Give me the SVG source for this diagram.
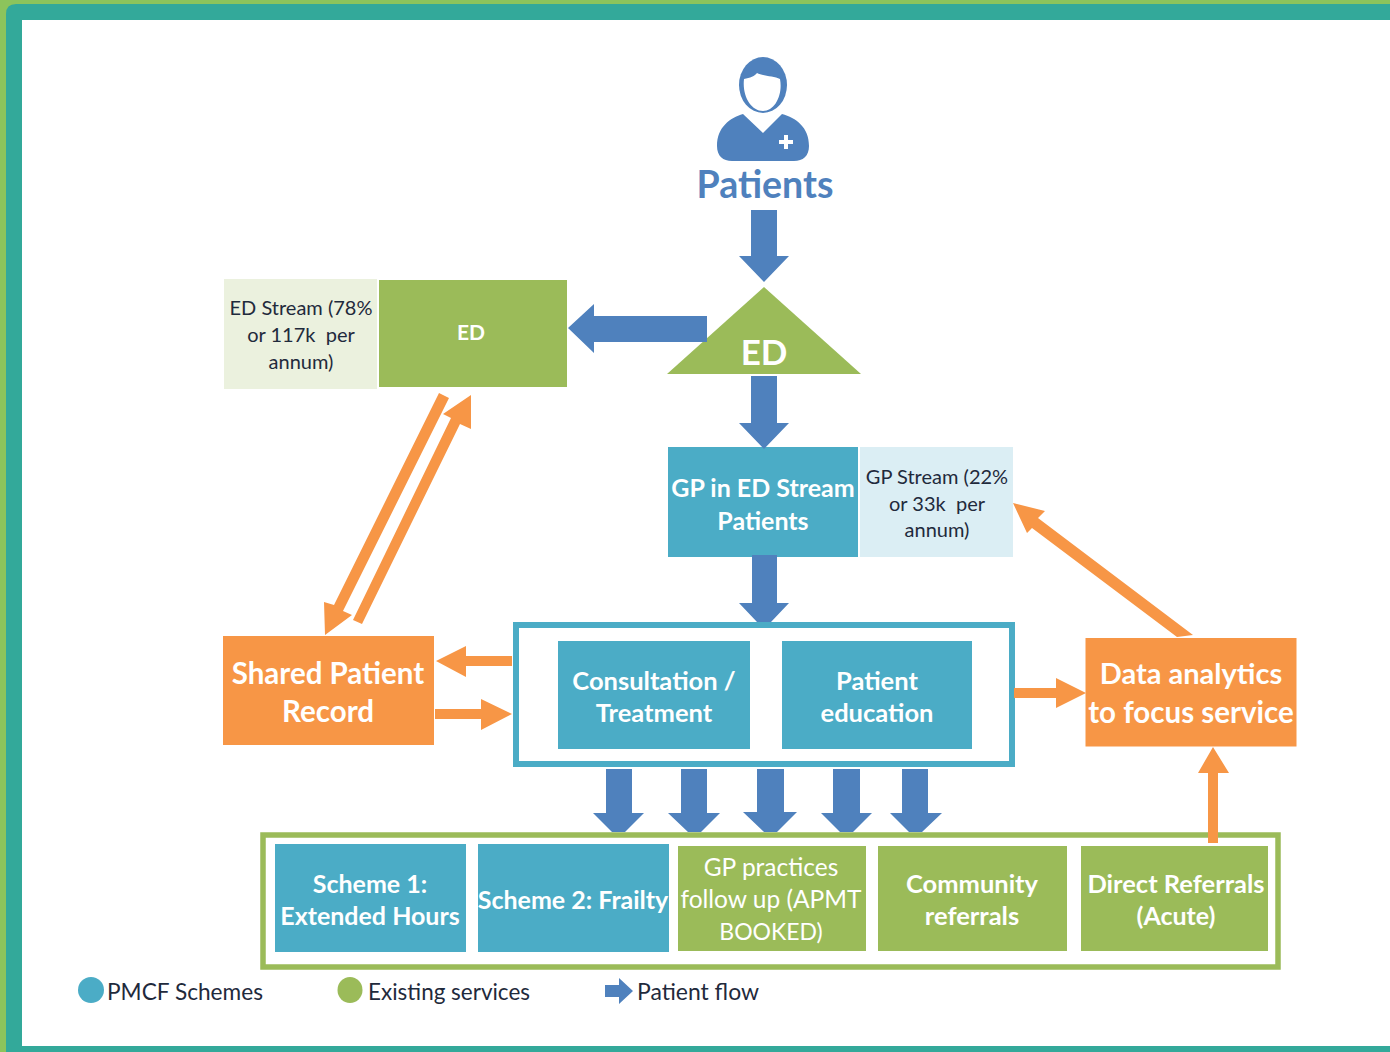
<svg xmlns="http://www.w3.org/2000/svg" width="1390" height="1052" viewBox="0 0 1390 1052">
<style>
text{font-family:Lato,"Liberation Sans",sans-serif;text-anchor:middle;white-space:pre}
.w{fill:#fff;font-weight:700;font-size:25.500px}
.h{fill:#fff;font-weight:700;font-size:29px}
.n{fill:#fff;font-weight:400;font-size:24.500px}
.d{fill:#1f2a3c;font-size:20px}
.g{fill:#9bbb59}.b{fill:#4bacc6}.o{fill:#f79646}.f{fill:#4f81bd}
.l{text-anchor:start;font-size:24px;fill:#1f2a3c}
</style>
<g id="frame">
<rect width="1390" height="1052" fill="#8cc45c"/>
<path d="M6 1052V14Q6 4 16 4H1390V1052Z" fill="#33a99a"/>
<rect x="22" y="20" width="1368" height="1026" fill="#fff"/>
</g>
<g id="patients">
<path class="f" d="M717 146C717 127 730 118 743 114L763 133L782 114C796 118 809 127 809 146C809 156 803 161 794 161H732C723 161 717 156 717 146Z"/>
<ellipse cx="763" cy="85" rx="24" ry="28" class="f"/>
<path d="M744 79C750 78 755 76 757 73C763 76 774 76 780 79C783 95 775 111 763 111C751 111 742 96 744 79Z" fill="#fff"/>
<path d="M784 135h4v5h5v4h-5v5h-4v-5h-5v-4h5z" fill="#fff"/>
<text x="765" y="198" font-size="37.500" font-weight="700" style="fill:#4f81bd">Patients</text>
</g>
<g id="ed-triangle">
<path class="g" d="M764 287L861 374H667Z"/>
<text x="764" y="365" style="fill:#fff;font-weight:700;font-size:35px">ED</text>
</g>
<g id="ed-stream">
<rect x="224" y="279" width="153" height="110" fill="#ebf1de"/>
<text class="d" x="301" y="315">ED Stream (78%</text>
<text class="d" x="301" y="342">or 117k  per</text>
<text class="d" x="301" y="369">annum)</text>
</g>
<g id="ed-box">
<rect class="g" x="379" y="280" width="188" height="107"/>
<text x="471" y="340" style="fill:#fff;font-weight:700;font-size:21px">ED</text>
</g>
<g id="gp-ed">
<rect class="b" x="668" y="447" width="190" height="110"/>
<text class="w" x="763" y="497" style="font-size:25px">GP in ED Stream</text>
<text class="w" x="763" y="530" style="font-size:25px">Patients</text>
</g>
<g id="gp-stream">
<rect x="860" y="447" width="153" height="110" fill="#dbeef4"/>
<text class="d" x="937" y="484">GP Stream (22%</text>
<text class="d" x="937" y="511">or 33k  per</text>
<text class="d" x="937" y="537">annum)</text>
</g>
<g id="shared-record">
<rect class="o" x="223" y="636" width="211" height="109"/>
<text class="h" x="328" y="684" style="font-size:29.500px">Shared Patient</text>
<text class="h" x="328" y="722" style="font-size:29.500px">Record</text>
</g>
<g id="care-container">
<rect x="516" y="625" width="496" height="139" fill="#fff" stroke="#4bacc6" stroke-width="6"/>
</g>
<g id="consultation">
<rect class="b" x="558" y="641" width="192" height="108"/>
<text class="w" x="654" y="690">Consultation /</text>
<text class="w" x="654" y="722">Treatment</text>
</g>
<g id="education">
<rect class="b" x="782" y="641" width="190" height="108"/>
<text class="w" x="877" y="690">Patient</text>
<text class="w" x="877" y="722">education</text>
</g>
<g id="data-analytics">
<rect class="o" x="1085.500" y="638" width="211" height="108.500"/>
<text class="h" x="1191" y="684">Data analytics</text>
<text class="h" x="1191" y="723" style="font-size:29.500px">to focus service</text>
</g>
<g id="schemes-container">
<rect x="263" y="835" width="1015" height="132" fill="#fff" stroke="#9bbb59" stroke-width="5.500"/>
</g>
<g id="scheme1">
<rect class="b" x="275" y="844" width="191" height="108"/>
<text class="w" x="370" y="893" style="font-size:25px">Scheme 1:</text>
<text class="w" x="370" y="925" style="font-size:25px">Extended Hours</text>
</g>
<g id="scheme2">
<rect class="b" x="478" y="844" width="191" height="108"/>
<text class="w" x="573" y="909" style="font-size:25px">Scheme 2: Frailty</text>
</g>
<g id="gp-practices">
<rect class="g" x="678" y="846" width="188" height="105"/>
<text class="n" x="771" y="876">GP practices</text>
<text class="n" x="771" y="908">follow up (APMT</text>
<text class="n" x="771" y="940" style="font-size:23px">BOOKED)</text>
</g>
<g id="community">
<rect class="g" x="878" y="846" width="189" height="105"/>
<text class="w" x="972" y="893">Community</text>
<text class="w" x="972" y="925">referrals</text>
</g>
<g id="direct">
<rect class="g" x="1081" y="846" width="187" height="105"/>
<text class="w" x="1176" y="893">Direct Referrals</text>
<text class="w" x="1176" y="925" style="font-size:25px">(Acute)</text>
</g>
<g id="legend">
<ellipse class="b" cx="91" cy="990" rx="13" ry="13"/>
<text class="l" x="107" y="1000" textLength="156" lengthAdjust="spacingAndGlyphs">PMCF Schemes</text>
<ellipse class="g" cx="350" cy="990" rx="12.500" ry="13"/>
<text class="l" x="368" y="1000" textLength="162" lengthAdjust="spacingAndGlyphs">Existing services</text>
<path class="f" d="M605 985H619V978L633 991L619 1004V997H605Z"/>
<text class="l" x="637" y="1000" textLength="122" lengthAdjust="spacingAndGlyphs">Patient flow</text>
</g>
<g id="connectors">
<path class="f" d="M751 210H777V256H789L764 282L739 256H751Z"/>
<path class="f" d="M707 316V342H594V353L568 328L594 304V316Z"/>
<path class="f" d="M751 376H777V423H789L764 449L739 423H751Z"/>
<path class="f" d="M752 555H777V603H789L771 622H757L739 603H752Z"/>
<path class="f" d="M606 769H632V813H644L625 832H612L593 813H606Z"/>
<path class="f" d="M681 769H707V813H720L701 832H688L668 813H681Z"/>
<path class="f" d="M757 769H784V812H797L777 832H764L743 812H757Z"/>
<path class="f" d="M833 769H860V813H872L853 832H840L821 813H833Z"/>
<path class="f" d="M902 769H928V813H942L922 832H909L890 813H902Z"/>
<path class="o" d="M439 393L449 398L343 611L352 615L325 635L324 602L334 605Z"/>
<path class="o" d="M471 395L471 429L460 424L362 624L353 620L451 418L443 414Z"/>
<path class="o" d="M512 656V666H466V677L436 661L466 646V656Z"/>
<path class="o" d="M435 709H481V699L512 714L481 730V719H435Z"/>
<path class="o" d="M1014 688H1056V678L1086 693L1056 708V698H1014Z"/>
<path class="o" d="M1013 503L1045 511L1038 518L1193 635L1177 637L1032 528L1027 533Z"/>
<path class="o" d="M1208 843V773H1198L1213 747L1229 773H1218V843Z"/>
</g>
</svg>
